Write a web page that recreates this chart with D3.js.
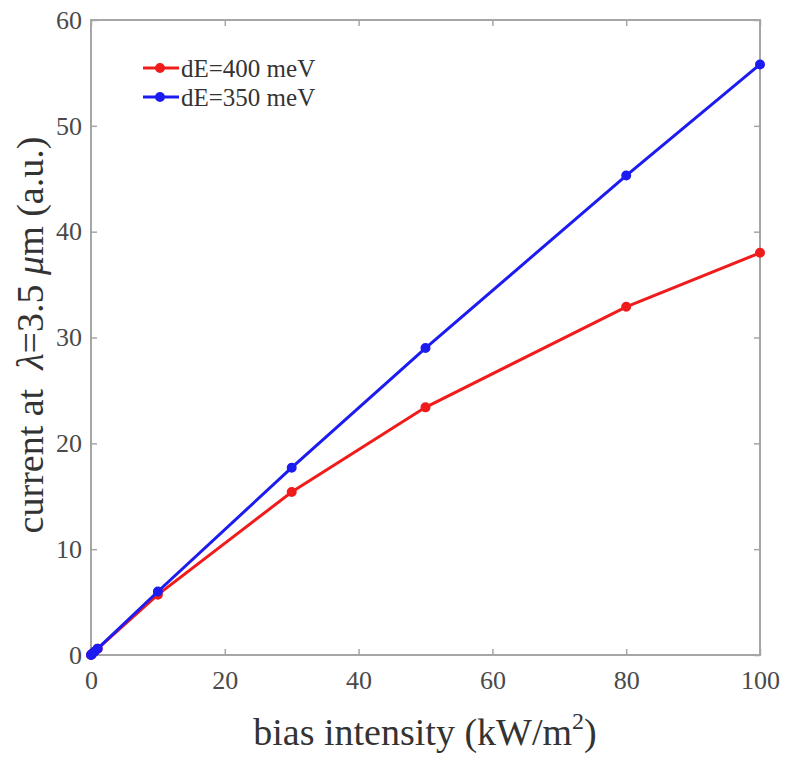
<!DOCTYPE html>
<html><head><meta charset="utf-8">
<script src="https://cdn.jsdelivr.net/npm/d3@7"></script>
<style>body{margin:0;background:#fff;} svg{display:block;}</style>
</head><body>
<svg id="c" width="786" height="760"></svg>
<script>
const xValues = [0, 0.1, 0.5, 1, 10, 30, 50, 80, 100];
const red400 = [0, 0.06, 0.3, 0.6, 5.7, 15.4, 23.4, 32.9, 38.0];
const blue350 = [0, 0.06, 0.3, 0.6, 6.0, 17.7, 29.0, 45.3, 55.8];
const xTicks = [0, 20, 40, 60, 80, 100];
const yTicks = [0, 10, 20, 30, 40, 50, 60];
const seriesNames = ["dE=400 meV", "dE=350 meV"];
const seriesColors = ["#f01c1c", "#1c1cf0"];

const svg = d3.select("#c");
const L = 91, R = 760, T = 20, B = 655;
const x = d3.scaleLinear().domain([0, 100]).range([L, R]);
const y = d3.scaleLinear().domain([0, 60]).range([B, T]);
const axisCol = "#a6a6a6", font = '"Liberation Serif", "Times New Roman", serif';

svg.append("rect").attr("x", L).attr("y", T).attr("width", R - L).attr("height", B - T)
  .attr("fill", "none").attr("stroke", axisCol).attr("stroke-width", 2);

const xa = svg.append("g").attr("transform", `translate(0,${B})`)
  .call(d3.axisBottom(x).tickValues(xTicks).tickSizeInner(-6).tickSizeOuter(0).tickPadding(16));
const xt = svg.append("g").attr("transform", `translate(0,${T})`)
  .call(d3.axisTop(x).tickValues(xTicks).tickSizeInner(-6).tickSizeOuter(0).tickFormat(""));
const ya = svg.append("g").attr("transform", `translate(${L},0)`)
  .call(d3.axisLeft(y).tickValues(yTicks).tickSizeInner(-6).tickSizeOuter(0).tickPadding(9));
const yr = svg.append("g").attr("transform", `translate(${R},0)`)
  .call(d3.axisRight(y).tickValues(yTicks).tickSizeInner(-6).tickSizeOuter(0).tickFormat(""));
[xa, xt, ya, yr].forEach(g => {
  g.attr("font-family", null);
  g.select(".domain").remove();
  g.selectAll("line").attr("stroke", axisCol).attr("stroke-width", 1.5);
  g.selectAll("text").attr("fill", "#4a4a4a").style("font-family", font).style("font-size", "26px");
});

const data = [red400, blue350];
const line = d3.line().x((d, i) => x(xValues[i])).y(d => y(d));
data.forEach((s, k) => {
  svg.append("path").datum(s).attr("d", line).attr("fill", "none")
    .attr("stroke", seriesColors[k]).attr("stroke-width", 3);
  svg.selectAll(null).data(s).enter().append("circle")
    .attr("cx", (d, i) => x(xValues[i])).attr("cy", d => y(d)).attr("r", 4)
    .attr("fill", seriesColors[k]).attr("stroke", seriesColors[k]).attr("stroke-width", 2);
});

seriesNames.forEach((n, k) => {
  const ly = 68 + k * 29;
  svg.append("line").attr("x1", 143).attr("x2", 179).attr("y1", ly).attr("y2", ly)
    .attr("stroke", seriesColors[k]).attr("stroke-width", 3);
  svg.append("circle").attr("cx", 160).attr("cy", ly).attr("r", 4)
    .attr("fill", seriesColors[k]).attr("stroke", seriesColors[k]).attr("stroke-width", 2);
  svg.append("text").attr("x", 181).attr("y", ly + 9).text(n)
    .attr("fill", "#333").style("font-family", font).style("font-size", "25px");
});

const xl = svg.append("text").attr("x", 425).attr("y", 745).attr("text-anchor", "middle")
  .attr("fill", "#333").style("font-family", font).style("font-size", "38px");
xl.append("tspan").text("bias intensity (kW/m");
xl.append("tspan").text("2").style("font-size", "24px").attr("dy", -16);
xl.append("tspan").text(")").attr("dy", 16);

const yl = svg.append("text").attr("transform", `translate(43,335) rotate(-90)`)
  .attr("text-anchor", "middle").attr("fill", "#333").style("font-family", font).style("font-size", "38px");
yl.append("tspan").text("current at\u00a0\u00a0");
yl.append("tspan").text("λ").style("font-style", "italic");
yl.append("tspan").text("=3.5 ");
yl.append("tspan").text("μ").style("font-style", "italic");
yl.append("tspan").text("m (a.u.)");
</script>
</body></html>
